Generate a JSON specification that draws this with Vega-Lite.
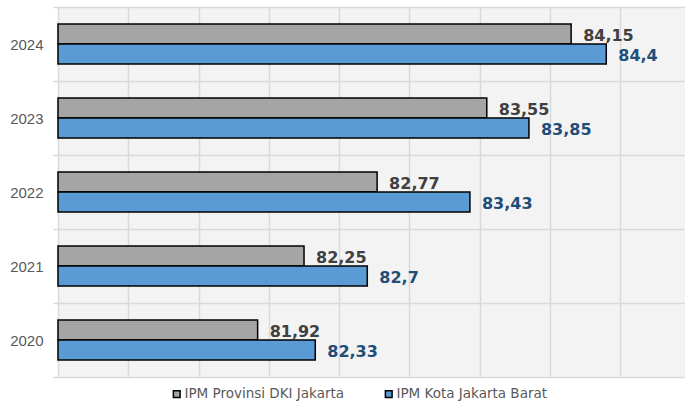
{
  "$schema": "https://vega.github.io/schema/vega-lite/v6.json",
  "autosize": {"type": "none"},
  "padding": {"left": 58, "top": 7, "right": 0, "bottom": 25},
  "width": 627,
  "height": 370,
  "config": {
    "locale": {"number": {"decimal": ",", "thousands": ".", "grouping": [3], "currency": ["", ""]}},
    "view": {"fill": "#f3f3f3", "stroke": null},
    "font": "Liberation Sans"
  },
  "data": {
    "values": [
      {"year": "2024", "series": "IPM Provinsi DKI Jakarta", "value": 84.15},
      {"year": "2024", "series": "IPM Kota Jakarta Barat", "value": 84.4},
      {"year": "2023", "series": "IPM Provinsi DKI Jakarta", "value": 83.55},
      {"year": "2023", "series": "IPM Kota Jakarta Barat", "value": 83.85},
      {"year": "2022", "series": "IPM Provinsi DKI Jakarta", "value": 82.77},
      {"year": "2022", "series": "IPM Kota Jakarta Barat", "value": 83.43},
      {"year": "2021", "series": "IPM Provinsi DKI Jakarta", "value": 82.25},
      {"year": "2021", "series": "IPM Kota Jakarta Barat", "value": 82.7},
      {"year": "2020", "series": "IPM Provinsi DKI Jakarta", "value": 81.92},
      {"year": "2020", "series": "IPM Kota Jakarta Barat", "value": 82.33}
    ]
  },
  "encoding": {
    "y": {
      "field": "year", "type": "nominal", "sort": "descending",
      "scale": {"paddingInner": 0, "paddingOuter": 0},
      "axis": {
        "title": null, "domain": false, "tickBand": "extent",
        "grid": true, "gridColor": "#d9d9d9", "gridWidth": 1.5,
        "ticks": true, "tickColor": "#d9d9d9", "tickSize": 5, "tickWidth": 1.5,
        "labelColor": "#595959", "labelFontSize": 15, "labelPadding": 10,
        "labelFont": "Liberation Sans"
      }
    },
    "yOffset": {
      "field": "series", "type": "nominal",
      "sort": ["IPM Provinsi DKI Jakarta", "IPM Kota Jakarta Barat"],
      "scale": {"paddingInner": 0, "paddingOuter": 0.85}
    },
    "x": {
      "field": "value", "type": "quantitative",
      "scale": {"domain": [80.5, 84.96], "zero": false, "nice": false},
      "axis": {
        "title": null, "labels": false, "ticks": false, "domain": false,
        "grid": true, "gridColor": "#d9d9d9", "gridWidth": 1.5,
        "values": [80.5, 81, 81.5, 82, 82.5, 83, 83.5, 84, 84.5]
      }
    }
  },
  "layer": [
    {
      "mark": {"type": "bar", "stroke": "#000000", "strokeWidth": 1.5},
      "encoding": {
        "x2": {"datum": 80.5},
        "color": {
          "field": "series", "type": "nominal",
          "sort": ["IPM Provinsi DKI Jakarta", "IPM Kota Jakarta Barat"],
          "scale": {"domain": ["IPM Provinsi DKI Jakarta", "IPM Kota Jakarta Barat"], "range": ["#a5a5a5", "#5b9bd5"]},
          "legend": {
            "title": null, "orient": "none", "direction": "horizontal",
            "legendX": 112, "legendY": 380,
            "symbolType": "square", "symbolSize": 45,
            "symbolStrokeColor": "#000000", "symbolStrokeWidth": 1.5,
            "labelFont": "DejaVu Sans", "labelFontSize": 13.5, "labelColor": "#595959",
            "labelOffset": 1, "columnPadding": 37
          }
        }
      }
    },
    {
      "mark": {"type": "text", "align": "left", "baseline": "middle", "dx": 12, "dy": 2, "fontWeight": "bold", "fontSize": 16, "font": "DejaVu Sans"},
      "encoding": {
        "text": {"field": "value", "type": "quantitative", "format": ".2~f"},
        "color": {
          "condition": {"test": "datum.series === 'IPM Kota Jakarta Barat'", "value": "#1f4e79"},
          "value": "#404040"
        }
      }
    }
  ]
}
